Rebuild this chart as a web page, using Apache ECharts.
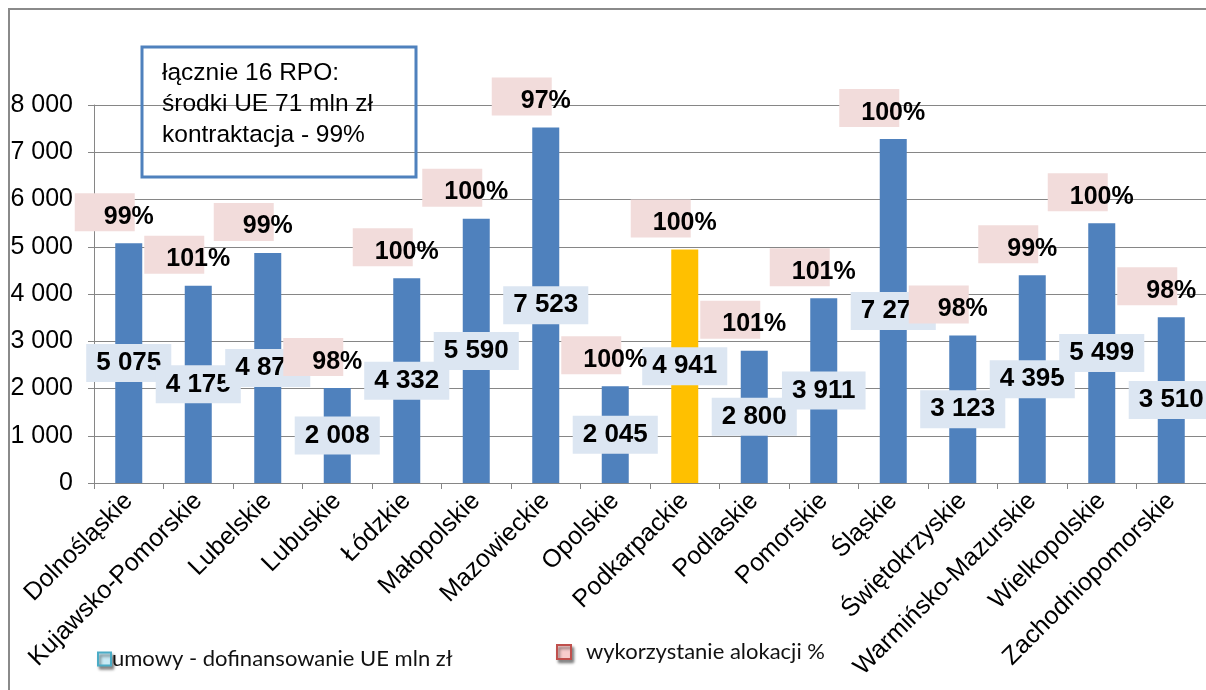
<!DOCTYPE html>
<html>
<head>
<meta charset="utf-8">
<script src="https://cdn.jsdelivr.net/npm/echarts@6/dist/echarts.min.js"></script>
<style>
html,body{margin:0;padding:0;background:#fff;}
#chart{width:1206px;height:690px;}
</style>
</head>
<body>
<div id="chart"></div>
<script>
const categories = ['Dolnośląskie','Kujawsko-Pomorskie','Lubelskie','Lubuskie','Łódzkie','Małopolskie','Mazowieckie','Opolskie','Podkarpackie','Podlaskie','Pomorskie','Śląskie','Świętokrzyskie','Warmińsko-Mazurskie','Wielkopolskie','Zachodniopomorskie'];
const contracts = [5075,4175,4870,2008,4332,5590,7523,2045,4941,2800,3911,7278,3123,4395,5499,3510];
const allocationPct = [99,101,99,98,100,100,97,100,100,101,101,100,98,99,100,98];
const yAxisMin = 0, yAxisMax = 8000, yAxisStep = 1000;
const highlighted = 'Podkarpackie';
const seriesNames = ['umowy - dofinansowanie UE mln zł', 'wykorzystanie alokacji %'];
const infoLines = ['łącznie 16 RPO:', 'środki UE 71 mln zł', 'kontraktacja - 99%'];

const FONT = 'Liberation Sans';
const fmt = v => String(v).replace(/\B(?=(\d{3})+(?!\d))/g, ' ');

const chart = echarts.init(document.getElementById('chart'));
const barData = contracts.map((v, i) => categories[i] === highlighted ? {value: v, itemStyle: {color: '#FFC000'}} : v);

chart.setOption({
  animation: false,
  backgroundColor: '#fff',
  textStyle: {fontFamily: FONT},
  grid: {left: 94, right: -6, top: 105, bottom: 207, containLabel: false},
  legend: [
    {
      data: [{name: seriesNames[0], icon: 'rect', itemStyle: {color: '#C8EAF5', borderColor: '#4BACC6', borderWidth: 2, shadowBlur: 3, shadowColor: 'rgba(0,0,0,0.45)', shadowOffsetX: 2, shadowOffsetY: 3}}],
      left: 97, top: 648, padding: 0, itemWidth: 13, itemHeight: 13, selectedMode: false,
      textStyle: {fontFamily: 'Lato', fontSize: 22, color: '#111', padding: [0, 0, 0, -4]}
    },
    {
      data: [{name: seriesNames[1], icon: 'rect', itemStyle: {color: '#F8CDCD', borderColor: '#C0504D', borderWidth: 2, shadowBlur: 3, shadowColor: 'rgba(0,0,0,0.45)', shadowOffsetX: 2, shadowOffsetY: 3}}],
      left: 556, top: 641, padding: 0, itemWidth: 14, itemHeight: 14, selectedMode: false,
      textStyle: {fontFamily: 'Lato', fontSize: 22, color: '#111', padding: [0, 0, 0, 10]}
    }
  ],
  xAxis: {
    type: 'category',
    data: categories,
    axisLine: {lineStyle: {color: '#868686', width: 1}},
    axisTick: {show: true, length: 6, lineStyle: {color: '#868686'}},
    axisLabel: {interval: 0, rotate: 45, margin: 14, fontFamily: FONT, fontSize: 25, color: '#000'}
  },
  yAxis: {
    type: 'value', min: yAxisMin, max: yAxisMax, interval: yAxisStep,
    axisLine: {show: true, lineStyle: {color: '#868686', width: 1}},
    axisTick: {show: true, length: 6, lineStyle: {color: '#868686'}},
    splitLine: {lineStyle: {color: '#868686', width: 1}},
    axisLabel: {margin: 21, fontFamily: FONT, fontSize: 25, color: '#000', formatter: fmt}
  },
  series: [
    {
      name: seriesNames[0], type: 'bar', barWidth: 27, barGap: '-100%',
      itemStyle: {color: '#4F81BD'},
      data: barData,
      label: {show: true, position: 'inside', formatter: p => fmt(p.value), fontFamily: FONT, fontSize: 26, fontWeight: 'bold', color: '#000', backgroundColor: '#DCE6F2', padding: [6, 10, 6, 10]}
    },
    {
      name: 'pctBox', type: 'bar', barWidth: 27, barGap: '-100%', silent: true,
      itemStyle: {color: 'rgba(0,0,0,0)'},
      data: contracts,
      label: {show: true, position: 'top', distance: 12, offset: [-24, 0], formatter: () => ' ', width: 60, height: 38, backgroundColor: '#F2DCDB', fontSize: 10}
    },
    {
      name: seriesNames[1], type: 'bar', barWidth: 27, barGap: '-100%', silent: true,
      itemStyle: {color: 'rgba(0,0,0,0)'},
      data: contracts,
      label: {show: true, position: 'top', distance: 14, formatter: p => allocationPct[p.dataIndex] + '%', fontFamily: FONT, fontSize: 25, fontWeight: 'bold', color: '#000'}
    }
  ],
  graphic: [
    {type: 'rect', silent: true, z: 100, shape: {x: 9, y: 9, width: 1400, height: 900}, style: {fill: 'none', stroke: '#8a8a8a', lineWidth: 2}},
    {type: 'rect', silent: true, z: 100, shape: {x: 142, y: 47, width: 274, height: 130}, style: {fill: 'none', stroke: '#4F81BD', lineWidth: 3}},
    {type: 'text', silent: true, z: 100, x: 162, y: 58, style: {text: infoLines.join('\n'), fontFamily: FONT, fontSize: 24.5, lineHeight: 31, fill: '#000'}}
  ]
});
</script>
</body>
</html>
